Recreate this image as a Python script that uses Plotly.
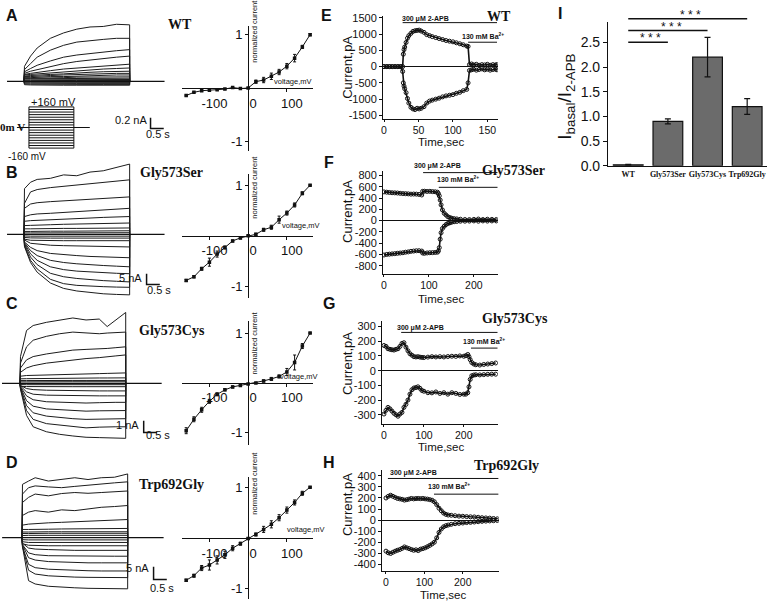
import plotly.graph_objects as go

W, H = 769, 610
def fx(px): return px / W
def fy(py): return 1 - py / H

# ======================= DATA =======================
# --- Panels A-D: whole-cell current families (nA) during a 4 s voltage step
STEP_END = 4.0
A_T = [0.02, 0.25, 0.5, 1.0, 1.5, 2.0, 2.5, 3.0, 3.5, 4.0]
A_SWEEPS = [
    [0.28, 0.47, 0.62, 0.80, 0.90, 0.97, 1.01, 1.02, 1.06, 1.05],
    [0.22, 0.33, 0.45, 0.58, 0.67, 0.73, 0.76, 0.78, 0.80, 0.80],
    [0.18, 0.24, 0.30, 0.38, 0.45, 0.49, 0.52, 0.55, 0.57, 0.59],
    [0.15, 0.19, 0.22, 0.28, 0.33, 0.37, 0.40, 0.43, 0.45, 0.47],
    [0.13, 0.15, 0.17, 0.20, 0.23, 0.25, 0.27, 0.29, 0.31, 0.32],
    [0.12, 0.13, 0.14, 0.16, 0.18, 0.20, 0.22, 0.23, 0.24, 0.25],
    [0.10, 0.11, 0.12, 0.13, 0.14, 0.16, 0.17, 0.18, 0.19, 0.19],
    [0.09, 0.09, 0.10, 0.11, 0.12, 0.13, 0.13, 0.14, 0.15, 0.15],
    [0.07, 0.07, 0.08, 0.09, 0.09, 0.10, 0.11, 0.11, 0.12, 0.12],
    [0.06, 0.06, 0.06, 0.07, 0.07, 0.08, 0.08, 0.08, 0.08, 0.085],
    [0.05, 0.05, 0.05, 0.05, 0.05, 0.06, 0.06, 0.06, 0.06, 0.06],
    [0.03, 0.03, 0.03, 0.035, 0.035, 0.035, 0.035, 0.036, 0.036, 0.036],
    [0.015, 0.015, 0.017, 0.018, 0.018, 0.018, 0.018, 0.018, 0.018, 0.018],
    [-0.015, -0.015, -0.016, -0.017, -0.018, -0.018, -0.018, -0.018, -0.018, -0.018],
    [-0.03, -0.032, -0.034, -0.035, -0.036, -0.036, -0.036, -0.036, -0.036, -0.036],
    [-0.045, -0.05, -0.052, -0.054, -0.055, -0.055, -0.055, -0.055, -0.055, -0.055],
    [-0.06, -0.065, -0.068, -0.07, -0.07, -0.07, -0.07, -0.07, -0.07, -0.07],
]
B_T = [0.02, 0.25, 0.5, 1.0, 1.5, 2.0, 2.5, 3.0, 3.5, 4.0]
B_SWEEPS = [
    [21.2, 24.2, 25.5, 26.0, 27.6, 27.2, 28.9, 29.5, 31.0, 32.6],
    [14.4, 19.7, 20.8, 21.7, 22.3, 22.7, 23.5, 23.9, 24.5, 25.3],
    [12.1, 14.1, 14.7, 15.2, 15.6, 15.9, 16.4, 16.7, 17.1, 17.4],
    [8.3, 9.1, 9.5, 9.8, 10.2, 10.5, 10.8, 11.2, 11.7, 12.1],
    [6.1, 6.4, 6.5, 6.8, 7.1, 7.4, 7.6, 7.9, 8.2, 8.3],
    [4.1, 4.2, 4.4, 4.5, 4.7, 4.8, 5.0, 5.2, 5.3, 5.3],
    [2.6, 2.6, 2.7, 2.7, 2.8, 2.8, 2.9, 2.9, 3.0, 3.0],
    [1.4, 1.4, 1.5, 1.5, 1.5, 1.6, 1.6, 1.6, 1.7, 1.7],
    [0.7, 0.7, 0.7, 0.8, 0.8, 0.8, 0.8, 0.8, 0.8, 0.8],
    [-0.7, -0.8, -0.8, -0.8, -0.8, -0.8, -0.8, -0.8, -0.8, -0.8],
    [-1.4, -1.6, -1.7, -1.7, -1.7, -1.7, -1.7, -1.7, -1.7, -1.7],
    [-2.2, -2.7, -2.8, -2.9, -2.9, -2.9, -2.9, -2.9, -2.9, -2.9],
    [-2.6, -4.1, -4.5, -5.0, -5.2, -5.3, -5.5, -5.6, -5.8, -5.8],
    [-3.5, -6.0, -7.5, -8.8, -9.4, -9.8, -10.2, -10.5, -10.6, -10.8],
    [-3.8, -7.5, -9.8, -12.0, -13.0, -13.6, -14.1, -14.4, -14.7, -15.0],
    [-4.2, -9.0, -12.0, -15.0, -16.3, -17.0, -17.4, -17.7, -18.0, -18.2],
    [-4.7, -10.5, -14.0, -18.0, -19.6, -20.4, -21.0, -21.4, -21.7, -22.0],
    [-5.3, -12.0, -16.0, -20.8, -22.8, -23.6, -24.0, -24.2, -24.4, -24.5],
    [-5.6, -13.0, -17.5, -22.5, -25.0, -26.2, -27.0, -27.5, -27.8, -28.0],
]
C_T = [0.02, 0.25, 0.5, 1.0, 1.5, 2.0, 2.5, 3.0, 3.3, 3.6, 4.0]
C_SWEEPS = [
    [2.28, 4.5, 4.92, 5.19, 5.39, 5.56, 5.39, 5.47, 4.83, 5.33, 6.03],
    [1.72, 3.11, 3.67, 4.0, 4.22, 4.36, 4.28, 4.22, 4.28, 4.33, 4.36],
    [1.31, 2.0, 2.28, 2.5, 2.69, 2.83, 2.89, 2.92, 2.97, 3.03, 3.11],
    [0.94, 1.31, 1.5, 1.72, 1.86, 2.0, 2.11, 2.19, 2.28, 2.33, 2.42],
    [0.61, 0.67, 0.69, 0.72, 0.75, 0.78, 0.81, 0.83, 0.85, 0.87, 0.89],
    [0.39, 0.40, 0.41, 0.42, 0.43, 0.44, 0.45, 0.46, 0.46, 0.47, 0.47],
    [0.24, 0.24, 0.25, 0.25, 0.25, 0.25, 0.25, 0.25, 0.25, 0.25, 0.25],
    [0.13, 0.13, 0.14, 0.14, 0.14, 0.14, 0.14, 0.14, 0.14, 0.14, 0.14],
    [-0.10, -0.11, -0.11, -0.11, -0.11, -0.11, -0.11, -0.11, -0.11, -0.11, -0.11],
    [-0.25, -0.27, -0.28, -0.28, -0.28, -0.28, -0.28, -0.28, -0.28, -0.28, -0.28],
    [-0.17, -0.44, -0.53, -0.58, -0.61, -0.64, -0.64, -0.64, -0.64, -0.64, -0.64],
    [-0.22, -0.72, -0.92, -1.0, -1.03, -1.06, -1.06, -1.06, -1.06, -1.06, -1.06],
    [-0.28, -1.06, -1.39, -1.56, -1.61, -1.67, -1.67, -1.64, -1.61, -1.61, -1.61],
    [-0.33, -1.47, -1.94, -2.17, -2.25, -2.31, -2.36, -2.33, -2.31, -2.31, -2.31],
    [-0.39, -1.89, -2.5, -2.78, -2.92, -3.0, -3.06, -3.03, -3.0, -3.0, -3.0],
    [-0.44, -2.31, -3.06, -3.42, -3.56, -3.69, -3.78, -3.72, -3.69, -3.69, -3.69],
    [-0.5, -2.72, -3.69, -4.11, -4.33, -4.47, -4.58, -4.61, -4.61, -4.64, -4.67],
]
D_T = [0.02, 0.25, 0.5, 1.0, 1.5, 2.0, 2.5, 3.0, 3.5, 4.0]
D_SWEEPS = [
    [20.9, 22.2, 23.5, 22.2, 22.8, 23.5, 22.8, 23.5, 23.7, 25.0],
    [17.1, 19.6, 20.3, 19.9, 19.6, 20.1, 20.6, 21.2, 21.5, 21.9],
    [13.8, 15.8, 17.1, 16.4, 17.3, 17.7, 17.4, 17.7, 17.9, 18.3],
    [8.7, 10.0, 10.6, 10.0, 10.9, 10.6, 11.3, 11.9, 12.2, 12.6],
    [4.9, 5.3, 5.5, 5.8, 6.0, 6.2, 6.4, 6.5, 6.8, 7.1],
    [3.2, 3.2, 3.3, 3.3, 3.4, 3.4, 3.5, 3.5, 3.6, 3.6],
    [2.2, 2.2, 2.3, 2.3, 2.3, 2.3, 2.3, 2.3, 2.3, 2.3],
    [1.6, 1.6, 1.7, 1.7, 1.7, 1.7, 1.7, 1.7, 1.7, 1.7],
    [0.8, 0.9, 0.9, 0.9, 0.9, 0.9, 0.9, 0.9, 0.9, 0.9],
    [-0.8, -0.9, -0.9, -0.9, -0.9, -0.9, -0.9, -0.9, -0.9, -0.9],
    [-1.6, -1.9, -1.9, -1.9, -1.9, -1.9, -1.9, -1.9, -1.9, -1.9],
    [-2.4, -3.0, -3.1, -3.2, -3.2, -3.2, -3.2, -3.2, -3.2, -3.2],
    [-2.2, -4.1, -4.5, -4.7, -4.9, -5.0, -5.0, -5.0, -5.0, -5.0],
    [-2.8, -6.0, -6.7, -7.1, -7.2, -7.3, -7.3, -7.3, -7.3, -7.3],
    [-2.8, -7.9, -8.8, -9.4, -9.6, -9.9, -9.9, -9.9, -9.9, -9.9],
    [-3.5, -10.5, -11.8, -12.4, -12.7, -12.9, -13.0, -13.1, -13.1, -13.1],
    [-3.5, -12.8, -14.3, -15.0, -15.3, -15.5, -15.6, -15.7, -15.7, -15.7],
    [-3.5, -16.9, -18.2, -19.1, -19.5, -19.7, -19.9, -20.0, -20.1, -20.1],
]
# holding periods (s) before/after the step
A_HOLD = [-0.64, 5.32]
B_HOLD = [-0.64, 5.32]
C_HOLD = [-0.68, 5.36]
D_HOLD = [-0.75, 5.36]
# scale bars: (current nA, time s)
A_SCALE = (0.2, 0.5)
B_SCALE = (5.0, 0.5)
C_SCALE = (1.0, 0.5)
D_SCALE = (5.0, 0.5)

# voltage protocol (mV)
PROTO_V = [-160, -140, -120, -100, -80, -60, -40, -20, 0, 20, 40, 60, 80, 100, 120, 140, 160]
PROTO_HOLD = [-1.07, 5.42]

# --- I-V curves (normalized current vs voltage, mV)
IV_V = [-160, -140, -120, -100, -80, -60, -40, -20, 0, 20, 40, 60, 80, 100, 120, 140, 160]
IV_A = [-0.14, -0.08, -0.05, -0.04, -0.03, -0.02, 0.01, -0.01, 0.0, 0.12, 0.15, 0.22, 0.30, 0.41, 0.56, 0.77, 1.0]
IV_A_ERR = [0.01, 0.01, 0.01, 0.01, 0.01, 0.01, 0.01, 0.01, 0.0, 0.03, 0.05, 0.06, 0.05, 0.05, 0.07, 0.03, 0.02]
IV_B = [-0.88, -0.81, -0.65, -0.52, -0.36, -0.23, -0.10, -0.04, 0.0, 0.03, 0.12, 0.17, 0.32, 0.45, 0.61, 0.84, 1.0]
IV_B_ERR = [0.02, 0.02, 0.03, 0.08, 0.06, 0.03, 0.02, 0.02, 0.01, 0.02, 0.03, 0.04, 0.07, 0.04, 0.04, 0.03, 0.01]
IV_C = [-0.96, -0.73, -0.54, -0.37, -0.23, -0.14, -0.08, -0.05, -0.02, 0.0, 0.04, 0.08, 0.13, 0.22, 0.41, 0.74, 1.0]
IV_C_ERR = [0.06, 0.05, 0.05, 0.04, 0.03, 0.02, 0.02, 0.02, 0.01, 0.01, 0.02, 0.03, 0.03, 0.07, 0.15, 0.05, 0.01]
IV_D = [-0.83, -0.74, -0.59, -0.53, -0.43, -0.33, -0.20, -0.11, -0.01, 0.07, 0.17, 0.27, 0.40, 0.55, 0.70, 0.88, 1.0]
IV_D_ERR = [0.02, 0.03, 0.05, 0.10, 0.08, 0.07, 0.05, 0.03, 0.02, 0.03, 0.06, 0.07, 0.06, 0.06, 0.05, 0.04, 0.01]

# --- E-H: current (pA) vs time (s)
E_T = [0, 4, 8, 12, 16, 20, 24, 27, 28, 29, 30, 32, 34, 36, 39, 42, 45, 48, 51, 54, 58, 62, 66, 70, 75, 80,
       85, 90, 95, 100, 105, 110, 115, 120, 122, 124, 127, 130, 134, 138, 142, 146, 150, 154, 158, 162, 164]
E_UP = [0, 0, 0, 0, 0, 0, 0, 0, 380, 520, 600, 740, 870, 950, 1020, 1080, 1100, 1110, 1120, 1090, 1050, 980,
        950, 920, 890, 860, 830, 800, 780, 760, 730, 700, 670, 630, 620, 60, 80, 50, 70, 40, 60, 50, 70, 40, 60, 50, 60]
E_DN = [0, 0, 0, 0, 0, 0, 0, -150, -500, -600, -680, -800, -980, -1120, -1250, -1300, -1320, -1280, -1300,
        -1280, -1230, -1120, -1060, -1030, -1000, -970, -930, -900, -880, -860, -820, -790, -740, -700, -500,
        -120, -100, -80, -110, -90, -70, -100, -80, -110, -90, -80, -100]
F_T = [0, 6, 12, 18, 24, 30, 36, 42, 48, 54, 60, 66, 72, 78, 84, 86, 90, 96, 102, 108, 114, 119, 121, 123, 125,
       127, 130, 134, 138, 142, 146, 150, 156, 162, 170, 180, 190, 200, 210, 220, 230, 240, 250]
F_UP = [510, 505, 500, 495, 493, 490, 485, 480, 478, 475, 470, 472, 470, 465, 455, 520, 522, 518, 520, 515, 512,
        505, 480, 440, 365, 280, 190, 130, 100, 70, 55, 45, 35, 30, 25, 20, 18, 22, 28, 20, 25, 22, 20]
F_DN = [-610, -600, -595, -590, -586, -580, -575, -570, -560, -555, -545, -540, -535, -534, -540, -575, -580,
        -574, -570, -568, -565, -560, -540, -480, -330, -215, -140, -100, -70, -50, -40, -30, -20, -15, -10, -10,
        -8, -5, -10, -5, -8, -5, -5]
G_T = [0, 5, 10, 15, 20, 25, 30, 35, 40, 45, 50, 55, 60, 65, 70, 75, 80, 85, 90, 95, 100, 110, 120, 130, 140,
       150, 160, 170, 180, 190, 200, 205, 210, 213, 216, 220, 225, 230, 240, 250, 260, 270, 280]
G_UP = [171, 165, 149, 145, 142, 140, 145, 149, 165, 185, 190, 160, 135, 115, 105, 95, 93, 95, 92, 90, 89, 92,
        95, 93, 95, 93, 96, 98, 97, 100, 98, 102, 110, 95, 75, 55, 45, 40, 38, 42, 45, 48, 52]
G_DN = [-295, -270, -250, -260, -275, -290, -300, -310, -295, -284, -250, -229, -200, -160, -130, -118, -115,
        -110, -120, -135, -140, -150, -151, -145, -155, -150, -160, -150, -155, -162, -160, -160, -150, -110, -60,
        -35, -30, -28, -29, -27, -25, -24, -24]
H_T = [0, 6, 12, 18, 24, 30, 36, 42, 48, 54, 60, 66, 72, 78, 84, 90, 96, 102, 108, 114, 120, 126, 132, 138, 144,
       150, 156, 162, 170, 180, 190, 200, 210, 220, 230, 240, 250, 260, 270, 280, 290]
H_UP = [200, 215, 225, 215, 205, 196, 192, 188, 181, 185, 190, 196, 192, 195, 196, 194, 196, 192, 190, 185, 180,
        166, 140, 108, 85, 64, 52, 46, 44, 40, 36, 35, 32, 30, 29, 26, 22, 20, 18, 15, 12]
H_DN = [-280, -295, -301, -290, -280, -272, -265, -255, -242, -250, -257, -265, -272, -268, -275, -262, -257,
        -250, -240, -228, -215, -199, -160, -111, -80, -60, -50, -44, -38, -32, -29, -26, -22, -20, -17, -14,
        -11, -9, -7, -5, -3]
# drug application periods (s): 300 uM 2-APB and 130 mM Ba2+
E_APB, E_BA = [27, 164], [122, 164]
F_APB, F_BA = [87, 253], [122, 253]
G_APB, G_BA = [43, 285], [218, 285]
H_APB, H_BA = [5, 293], [125, 293]

# --- I: ratio bar chart
I_CATS = ["WT", "Gly573Ser", "Gly573Cys", "Trp692Gly"]
I_VALS = [0.02, 0.90, 2.20, 1.20]
I_ERR = [0.01, 0.05, 0.40, 0.16]
I_SIG = [(0, 1), (0, 2), (0, 3)]

# ======================= FIGURE =======================
BLACK = "#111111"
SANS = "Liberation Sans"
SERIF = "Liberation Serif"
traces = []
layout = {}
shapes = []
annos = []

def ids(n):
    return ("x" if n == 1 else f"x{n}"), ("y" if n == 1 else f"y{n}")

def keys(n):
    return ("xaxis" if n == 1 else f"xaxis{n}"), ("yaxis" if n == 1 else f"yaxis{n}")

def hidden(n, xdom, xr, ydom, yr):
    kx, ky = keys(n)
    xi, yi = ids(n)
    layout[kx] = dict(domain=[fx(xdom[0]), fx(xdom[1])], range=xr, visible=False, anchor=yi, fixedrange=True)
    layout[ky] = dict(domain=[fy(ydom[1]), fy(ydom[0])], range=yr, visible=False, anchor=xi, fixedrange=True)

def family(n, T, sweeps, hold, scale, sbar_t, sbar_i):
    xi, yi = ids(n)
    xs, ys = [], []
    for s in sweeps:
        xs += [0.0] + T + [STEP_END, None]
        ys += [0.0] + s + [0.0, None]
    traces.append(go.Scatter(x=xs, y=ys, mode="lines", line=dict(color="#1c1c1c", width=1),
                             xaxis=xi, yaxis=yi, hoverinfo="skip"))
    traces.append(go.Scatter(x=hold, y=[0, 0], mode="lines", line=dict(color=BLACK, width=1.2),
                             xaxis=xi, yaxis=yi, hoverinfo="skip"))
    di, dt = scale
    traces.append(go.Scatter(x=[sbar_t, sbar_t, sbar_t + dt], y=[sbar_i, sbar_i - di, sbar_i - di],
                             mode="lines", line=dict(color=BLACK, width=1.5), xaxis=xi, yaxis=yi,
                             hoverinfo="skip"))

def ann(text, x, y, size=11, family=SANS, angle=0, xanchor="center", yanchor="middle", color=BLACK):
    annos.append(dict(text=text, x=fx(x), y=fy(y), xref="paper", yref="paper", showarrow=False,
                      font=dict(size=size, family=family, color=color), textangle=angle,
                      xanchor=xanchor, yanchor=yanchor))

# ---- A-D current families
hidden(1, (2, 168), [-0.755, 5.51], (10, 135), [-1.018, 1.2545])
family(1, A_T, A_SWEEPS, A_HOLD, A_SCALE, 4.79, -0.673)
hidden(4, (2, 168), [-0.755, 5.51], (160, 300), [-29.5, 34.1])
family(4, B_T, B_SWEEPS, B_HOLD, B_SCALE, 4.64, -18.2)
hidden(6, (0, 163), [-0.679, 5.47], (310, 450), [-5.25, 6.417])
family(6, C_T, C_SWEEPS, C_HOLD, C_SCALE, 4.68, -3.17)
hidden(8, (0, 168), [-0.755, 5.585], (470, 605), [-23.35, 28.6])
family(8, D_T, D_SWEEPS, D_HOLD, D_SCALE, 4.98, -11.4)

# ---- voltage protocol inset
hidden(2, (5, 95), [-1.956, 6.04], (95, 155), [-221, 236])
px_, py_ = [], []
for v in PROTO_V:
    px_ += [0.0, STEP_END, None]
    py_ += [v, v, None]
px_ += [0.0, 0.0, None, STEP_END, STEP_END, None] + PROTO_HOLD
py_ += [PROTO_V[0], PROTO_V[-1], None, PROTO_V[0], PROTO_V[-1], None, 0, 0]
traces.append(go.Scatter(x=px_, y=py_, mode="lines", line=dict(color=BLACK, width=1),
                         xaxis="x2", yaxis="y2", hoverinfo="skip"))

# ---- I-V plots (axes crossing at origin)
def iv(n, I, err, ytop, ybot, yr):
    kx, ky = keys(n)
    xi, yi = ids(n)
    xr = [-172, 168]
    x0px = 180 + (0 - xr[0]) / (xr[1] - xr[0]) * 132
    y0px = ybot - (0 - yr[0]) / (yr[1] - yr[0]) * (ybot - ytop)
    common = dict(showline=True, linecolor=BLACK, linewidth=1, ticks="outside", ticklen=3, tickcolor=BLACK,
                  showgrid=False, zeroline=False, fixedrange=True,
                  tickfont=dict(size=13, family=SANS, color=BLACK))
    layout[kx] = dict(domain=[fx(180), fx(312)], range=xr, anchor="free", position=fy(y0px),
                      tickvals=[-100, 0, 100], ticktext=["-100", "0", "100"], ticklabelshift=5, **common)
    layout[ky] = dict(domain=[fy(ybot), fy(ytop)], range=yr, anchor="free", position=fx(x0px),
                      tickvals=[-1, 1], ticktext=["-1", "1"], **common)
    traces.append(go.Scatter(x=IV_V, y=I, mode="lines+markers", xaxis=xi, yaxis=yi,
                             line=dict(color=BLACK, width=1),
                             marker=dict(symbol="square", size=3.5, color=BLACK),
                             error_y=dict(type="data", array=err, color=BLACK, thickness=1, width=1.5),
                             hoverinfo="skip"))

iv(3, IV_A, IV_A_ERR, 22, 150, [-1.18, 1.17])
iv(5, IV_B, IV_B_ERR, 173, 300, [-1.23, 1.23])
iv(7, IV_C, IV_C_ERR, 323, 450, [-1.25, 1.25])
iv(9, IV_D, IV_D_ERR, 482, 607, [-1.2, 1.21])

# ---- E-H time courses
def tc(n, T, up, dn, xdom, xr, xt, ydom, yr, yt, apb, ba, apb_y, ba_y):
    kx, ky = keys(n)
    xi, yi = ids(n)
    common = dict(showline=True, linecolor=BLACK, linewidth=1, ticks="outside", tickcolor=BLACK,
                  showgrid=False, fixedrange=True)
    layout[kx] = dict(domain=[fx(xdom[0]), fx(xdom[1])], range=xr, tickvals=xt, anchor=yi,
                      zeroline=False, ticklen=2, tickfont=dict(size=10.5, family=SANS, color=BLACK), **common)
    layout[ky] = dict(domain=[fy(ydom[1]), fy(ydom[0])], range=yr, tickvals=yt,
                      ticktext=[str(v) for v in yt], anchor=xi, ticklen=3,
                      tickfont=dict(size=11, family=SANS, color=BLACK),
                      zeroline=True, zerolinecolor=BLACK, zerolinewidth=1, **common)
    for ser in (up, dn):
        traces.append(go.Scatter(x=T, y=ser, mode="lines+markers", xaxis=xi, yaxis=yi,
                                 line=dict(color=BLACK, width=1.6),
                                 marker=dict(symbol="circle-open", size=4, color=BLACK, line=dict(width=1)),
                                 hoverinfo="skip", cliponaxis=True))
    for rng, ypx in ((apb, apb_y), (ba, ba_y)):
        shapes.append(dict(type="line", xref=xi, yref="paper", x0=rng[0], x1=rng[1], y0=fy(ypx), y1=fy(ypx),
                           line=dict(color=BLACK, width=1)))

tc(10, E_T, E_UP, E_DN, (382, 497), [-1.5, 165], [0, 50, 100, 150], (12, 117), [-1600, 1560],
   [-1500, -1000, -500, 0, 500, 1000, 1500], E_APB, E_BA, 19, 39)
tc(11, F_T, F_UP, F_DN, (382, 497), [-2.2, 253], [0, 100, 200], (170, 275), [-940, 887],
   [-800, -600, -400, -200, 0, 200, 400, 600, 800], F_APB, F_BA, 172, 187)
tc(12, G_T, G_UP, G_DN, (381, 497), [-5, 285], [0, 100, 200], (323, 428), [-360, 340],
   [-300, -200, -100, 0, 100, 200, 300], G_APB, G_BA, 335, 351)
tc(13, H_T, H_UP, H_DN, (381, 498), [-10.4, 293.5], [0, 100, 200], (475, 578), [-456, 456],
   [-400, -300, -200, -100, 0, 100, 200, 300, 400], H_APB, H_BA, 484, 500)

# ---- I bar chart
layout["xaxis14"] = dict(domain=[fx(608), fx(767)], range=[-0.5, 3.5], anchor="y14", showline=True,
                         linecolor=BLACK, linewidth=1.5, ticks="", showgrid=False, zeroline=False,
                         tickvals=[0, 1, 2, 3], ticktext=[f"<b>{c}</b>" for c in I_CATS],
                         tickfont=dict(size=8, family=SERIF, color=BLACK), fixedrange=True)
layout["yaxis14"] = dict(domain=[fy(165), fy(18)], range=[0, 2.92], anchor="x14", showline=True,
                         linecolor=BLACK, linewidth=1.5, ticks="outside", ticklen=4, tickcolor=BLACK,
                         tickvals=[0, 0.5, 1.0, 1.5, 2.0, 2.5], tickformat=".1f", showgrid=False,
                         zeroline=False, tickfont=dict(size=14, family=SANS, color=BLACK), fixedrange=True)
traces.append(go.Bar(x=[0, 1, 2, 3], y=I_VALS, width=0.75, xaxis="x14", yaxis="y14",
                     marker=dict(color="#6b6b6b", line=dict(color=BLACK, width=1.2)),
                     error_y=dict(type="data", array=I_ERR, color=BLACK, thickness=1.2, width=3),
                     hoverinfo="skip"))
for (a, b), ypx in zip(I_SIG, (39, 27, 15)):
    shapes.append(dict(type="line", xref="x14", yref="paper", x0=a, x1=b, y0=fy(ypx), y1=fy(ypx),
                       line=dict(color=BLACK, width=1.5)))
ann("* * *", 650, 35, size=12)
ann("* * *", 671, 23, size=12)
ann("* * *", 690, 11, size=12)
ann("I<sub>basal</sub>/I<sub>2-APB</sub>", 566, 95, size=19, angle=-90)

# ---- text labels
for letter, x, y in (("A", 10, 12), ("B", 10, 172), ("C", 10, 305), ("D", 10, 468),
                     ("E", 325, 12), ("F", 328, 162), ("G", 328, 305), ("H", 328, 468), ("I", 559, 10)):
    ann(f"<b>{letter}</b>", x, y, size=16)

for txt, x, y in (("WT", 178, 21), ("Gly573Ser", 170, 172), ("Gly573Cys", 170, 333), ("Trp692Gly", 170, 490),
                  ("WT", 498, 13), ("Gly573Ser", 513, 170), ("Gly573Cys", 514, 321), ("Trp692Gly", 506, 471)):
    ann(f"<b>{txt}</b>", x, y, size=14, family=SERIF)

# protocol labels
ann("+160 mV", 52, 100, size=11)
ann("<b>0m V</b>", 11, 125, size=11, family=SERIF)
ann("-160 mV", 25, 156, size=10)

# scale bar labels
ann("0.2 nA", 147, 118, size=11, xanchor="right")
ann("0.5 s", 156, 133, size=11)
ann("5 nA", 142, 279, size=11, xanchor="right")
ann("0.5 s", 157, 292, size=11)
ann("1 nA", 139, 429, size=11, xanchor="right")
ann("0.5 s", 156, 440, size=11)
ann("5 nA", 149, 575, size=11, xanchor="right")
ann("0.5 s", 160, 596, size=11)

# I-V labels
for ncy, vx, vy in ((28, 292, 79), (187, 300, 226), (346, 298, 380), (489, 305, 536)):
    ann("normalized current", 253, ncy, size=7.5, angle=-90)
    ann("voltage,mV", vx, vy, size=7.5)

# E-H labels
for cy in (65, 212, 367, 511):
    ann("Current,pA", 347, cy, size=13, angle=-90)
for ty in (141, 301, 452):
    ann("Time,sec", 440, ty, size=11.5)
ann("Time,sec", 442, 611, size=11.5, yanchor="bottom")
for (ax, ay), (bx, by) in (((425, 15), (482, 33)), ((437, 165), (457, 179)),
                           ((420, 330), (483, 344)), ((413, 478), (448, 492))):
    ann("<b>300 μM 2-APB</b>", ax, ay, size=7)
    ann("<b>130 mM Ba<sup>2+</sup></b>", bx, by, size=7)

layout.update(width=W, height=H, autosize=False, margin=dict(l=0, r=0, t=0, b=0),
              paper_bgcolor="white", plot_bgcolor="rgba(0,0,0,0)", showlegend=False,
              font=dict(family=SANS, color=BLACK), shapes=shapes, annotations=annos, bargap=0)

fig = go.Figure(data=traces, layout=layout)
fig.write_html("out.html", config={"displayModeBar": False, "staticPlot": True},
               post_script="document.body.style.margin='0px';")
